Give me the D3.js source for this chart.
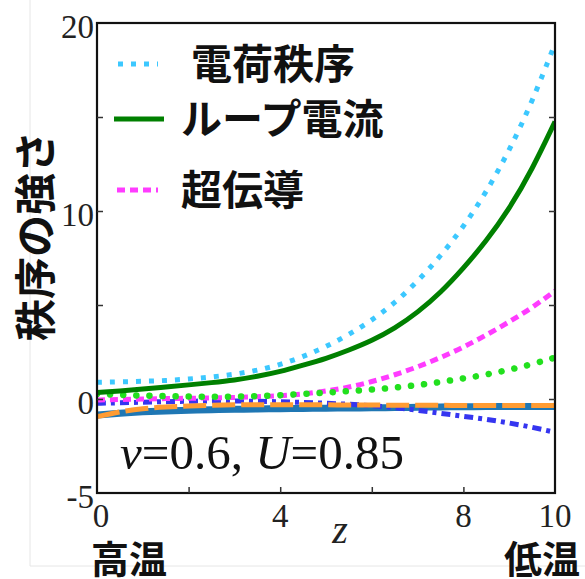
<!DOCTYPE html>
<html><head><meta charset="utf-8">
<script src="https://cdn.jsdelivr.net/npm/d3@7/dist/d3.min.js"></script>
<style>
html,body{margin:0;padding:0;background:#fff;}
svg{display:block;}
</style></head>
<body>
<script>
// ---- data ----
const zValues = [0,0.5,1,1.5,2,2.5,3,3.5,4,4.5,5,5.5,6,6.5,7,7.5,8,8.5,9,9.5,10];
const chargeOrder   = [0.89,0.91,0.94,0.98,1.06,1.17,1.31,1.52,1.82,2.25,2.78,3.42,4.18,5.10,6.25,7.60,9.15,11.0,13.2,15.8,18.9];
const loopCurrent   = [0.34,0.43,0.53,0.64,0.75,0.87,1.00,1.20,1.45,1.80,2.15,2.60,3.10,3.75,4.60,5.65,6.95,8.40,10.1,12.2,14.75];
const superCond     = [-0.05,-0.03,0.0,0.02,0.04,0.06,0.08,0.12,0.17,0.26,0.42,0.62,0.92,1.28,1.70,2.20,2.75,3.40,4.10,4.85,5.75];
const greenDotted   = [0.27,0.22,0.18,0.15,0.13,0.12,0.12,0.15,0.20,0.27,0.34,0.42,0.50,0.60,0.74,0.90,1.09,1.30,1.55,1.85,2.20];
const blueDashDot   = [-0.23,-0.20,-0.17,-0.14,-0.12,-0.10,-0.10,-0.12,-0.15,-0.18,-0.22,-0.28,-0.35,-0.45,-0.60,-0.76,-0.92,-1.08,-1.27,-1.50,-1.77];
const orangeDashed  = [-0.94,-0.67,-0.50,-0.42,-0.37,-0.33,-0.31,-0.30,-0.30,-0.31,-0.31,-0.32,-0.32,-0.33,-0.33,-0.34,-0.34,-0.35,-0.35,-0.35,-0.35];
const steelSolid    = [-0.85,-0.75,-0.68,-0.63,-0.60,-0.57,-0.55,-0.53,-0.52,-0.50,-0.49,-0.48,-0.47,-0.46,-0.44,-0.42,-0.41,-0.40,-0.40,-0.40,-0.40];
const xTickLabels = [0,4,8,10];
const xTickMarks  = [2,4,6,8];
const yTickLabels = [20,10,0,-5];
const yTickMarks  = [0,5,10,15];
const legendLabels = ["電荷秩序","ループ電流","超伝導"];
const yTitle = "秩序の強さ";
const xTitle = "z";
const leftNote = "高温", rightNote = "低温";

// ---- layout ----
const W = 585, H = 579;
const svg = d3.select("body").append("svg").attr("width", W).attr("height", H);
const x = d3.scaleLinear().domain([0,10]).range([97,555]);
const y = d3.scaleLinear().domain([-5,20]).range([493,23]);

// faint outer frame
svg.append("path").attr("d", `M30,0 V566 H585`).attr("fill","none").attr("stroke","#e6e6e6").attr("stroke-width",1);

svg.append("defs").append("clipPath").attr("id","clip")
  .append("rect").attr("x",x(0)).attr("y",y(20)).attr("width",x(10)-x(0)).attr("height",y(-5)-y(20));

const series = [
  {v: steelSolid,   color:"#1f77b4", w:7,   dash:null,      cap:"butt"},
  {v: blueDashDot,  color:"#3535f0", w:5,   dash:"9 5 4 5", cap:"butt"},
  {v: orangeDashed, color:"#ff9c33", w:5,   dash:"23 6",    cap:"butt"},
  {v: superCond,    color:"#ff3cff", w:5,   dash:"8 5",     cap:"butt"},
  {v: greenDotted,  color:"#22e01e", w:6.5, dash:"0.1 13",  cap:"round"},
  {v: loopCurrent,  color:"#008000", w:5,   dash:null,      cap:"butt"},
  {v: chargeOrder,  color:"#3cc8ff", w:5,   dash:"5 8",     cap:"butt"}
];
const line = d3.line().x((d,i)=>x(zValues[i])).y(d=>y(d)).curve(d3.curveBasis);
const g = svg.append("g").attr("clip-path","url(#clip)");
series.forEach(s=>{
  g.append("path").datum(s.v).attr("d", line).attr("fill","none")
   .attr("stroke", s.color).attr("stroke-width", s.w)
   .attr("stroke-dasharray", s.dash).attr("stroke-linecap", s.cap);
});

// frame
svg.append("rect").attr("x",x(0)).attr("y",y(20)).attr("width",x(10)-x(0)).attr("height",y(-5)-y(20))
  .attr("fill","none").attr("stroke","#111").attr("stroke-width",2.2);

// ticks (inward) via axes
const axB = d3.axisBottom(x).tickValues(xTickMarks).tickSize(-6).tickFormat("");
const gB = svg.append("g").attr("transform",`translate(0,${y(-5)})`).call(axB);
const axL = d3.axisLeft(y).tickValues(yTickMarks).tickSize(-6).tickFormat("");
const gL = svg.append("g").attr("transform",`translate(${x(0)},0)`).call(axL);
const axR = d3.axisRight(y).tickValues(yTickMarks).tickSize(-6).tickFormat("");
const gR = svg.append("g").attr("transform",`translate(${x(10)},0)`).call(axR);
[gB,gL,gR].forEach(a=>{a.select(".domain").remove(); a.selectAll("line").attr("stroke","#333").attr("stroke-width",1.5);});

// tick labels
const serif = "'Liberation Serif','Times New Roman',serif";
svg.append("g").selectAll("text").data(xTickLabels).join("text")
  .attr("x", d=>x(d)+(d===0?4:0)).attr("y", 527).attr("text-anchor","middle")
  .attr("font-family", serif).attr("font-size", 33).attr("fill","#222").text(d=>d);
svg.append("g").selectAll("text").data(yTickLabels).join("text")
  .attr("x", 94).attr("y", d=>y(d)+15).attr("text-anchor","end")
  .attr("font-family", serif).attr("font-size", 33).attr("fill","#222").text(d=>d);

// axis titles
svg.append("text").attr("x", 340).attr("y", 543).attr("text-anchor","middle")
  .attr("font-family", serif).attr("font-style","italic").attr("font-size", 40).attr("fill","#222").text(xTitle);
const cjk = "'Noto Sans CJK JP','Noto Sans CJK SC',sans-serif";
svg.append("text").attr("transform","translate(51,236) rotate(-90)").attr("text-anchor","middle")
  .attr("font-family", cjk).attr("font-weight","bold").attr("font-size", 42).attr("fill","#111").text(yTitle);
svg.append("text").attr("x", 91).attr("y", 573).attr("font-family", cjk).attr("font-weight","bold")
  .attr("font-size", 38).attr("fill","#111").text(leftNote);
svg.append("text").attr("x", 580).attr("y", 573).attr("text-anchor","end").attr("font-family", cjk).attr("font-weight","bold")
  .attr("font-size", 38).attr("fill","#111").text(rightNote);

// legend
const leg = [
  {label: legendLabels[0], s: series[6], y: 64, tx: 191},
  {label: legendLabels[1], s: series[5], y: 119, tx: 181},
  {label: legendLabels[2], s: series[3], y: 190, tx: 181}
];
const lx = [[118,158],[114,164],[117,158]];
leg.forEach((l,i)=>{
  svg.append("line").attr("x1",lx[i][0]).attr("x2",lx[i][1]).attr("y1",l.y).attr("y2",l.y)
    .attr("stroke",l.s.color).attr("stroke-width",l.s.w).attr("stroke-dasharray",l.s.dash);
  svg.append("text").attr("x",l.tx).attr("y",l.y+15).attr("font-family",cjk).attr("font-weight","bold")
    .attr("font-size",41).attr("fill","#111").text(l.label);
});
// annotation
const note = svg.append("text").attr("x",120).attr("y",469).attr("font-family",serif).attr("font-size",49).attr("fill","#111");
note.append("tspan").attr("font-style","italic").text("v");
note.append("tspan").text("=0.6, ");
note.append("tspan").attr("font-style","italic").text("U");
note.append("tspan").text("=0.85");
</script>
</body></html>
